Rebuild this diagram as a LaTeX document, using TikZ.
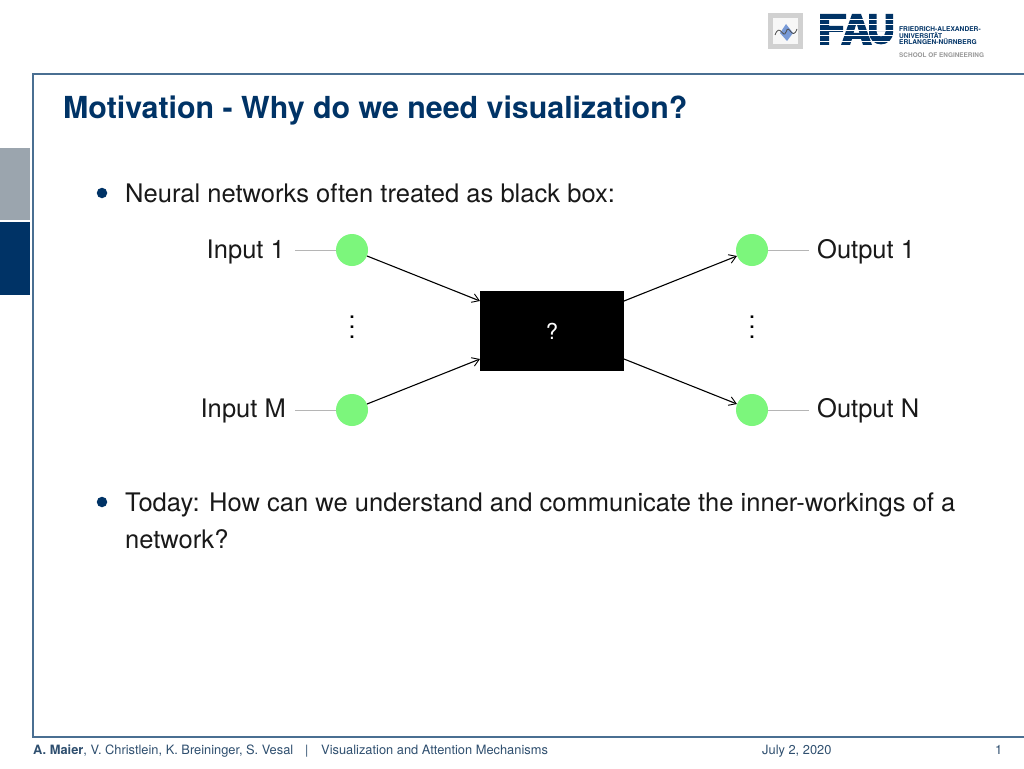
\documentclass[tikz,border=0pt]{standalone}
\usepackage{fontspec}
\usepackage{graphicx}
\setmainfont{TeX Gyre Heros}
\usetikzlibrary{arrows.meta}
\definecolor{faublue}{HTML}{003366}
\definecolor{frameblue}{HTML}{4A6F92}
\definecolor{sidegray}{HTML}{9BA5AE}
\definecolor{nodegreen}{HTML}{7CF67C}
\definecolor{leadgray}{HTML}{B5B5B5}
\definecolor{footblue}{HTML}{2F4F6F}
\tikzset{
  neuron/.style={circle,fill=nodegreen,minimum size=32pt,inner sep=0pt},
  blackbox/.style={rectangle,fill=black,text=white,minimum width=144pt,minimum height=80pt,inner sep=0pt,font=\fontsize{22}{26}\selectfont},
  lab/.style={inner sep=0pt,font=\fontsize{25.5}{30}\selectfont,text=black!90},
  body/.style={anchor=base west,inner sep=0pt,font=\fontsize{25.55}{30}\selectfont,text=black!90},
  foot/.style={anchor=base west,inner sep=0pt,font=\fontsize{12.85}{16}\selectfont,text=footblue},
  flow/.style={draw=black,line width=1.1pt,-{Straight Barb[length=7pt,width=9pt,line width=0.9pt]}},
  lead/.style={draw=leadgray,line width=1pt},
  bul/.style={circle,fill=faublue,minimum size=10.5pt,inner sep=0pt},
  lg/.style={anchor=base west,inner sep=0pt,font=\bfseries\fontsize{6.6}{8}\selectfont,text=faublue},
  dotsnode/.style={inner sep=0pt},
}
\begin{document}
\begin{tikzpicture}[x=1pt,y=-1pt]
\useasboundingbox (0,0) rectangle (1024,768);
\fill[white] (0,0) rectangle (1024,768);
% frame and side bars
\draw[frameblue,line width=1.5pt] (1024,74) -- (33,74) -- (33,737) -- (1024,737);
\fill[sidegray] (0,148) rectangle (29.5,220);
\fill[faublue] (0,222) rectangle (29.5,295);
% title
\node[anchor=base west,inner sep=0pt,font=\bfseries\fontsize{30.35}{36}\selectfont,text=faublue] (title) at (63,118) {Motivation - Why do we need visualization?};
% bullets
\node[bul] (b1) at (102,193) {};
\node[body] (t1) at (125,202) {Neural networks often treated as black box:};
\node[bul] (b2) at (102,502) {};
\node[body] (t2) at (125,511) {Today: How can we understand and communicate the inner-workings of a};
\node[body] (t3) at (125,548) {network?};
% diagram
\node[neuron] (in1) at (352,250) {};
\node[neuron] (inM) at (352,410) {};
\node[neuron] (out1) at (752,250) {};
\node[neuron] (outN) at (752,410) {};
\node[blackbox] (box) at (552,331) {?};
\node[lab,anchor=base east] (lin1) at (285,258) {Input 1};
\node[lab,anchor=base east] (linM) at (286,417) {Input M};
\node[lab,anchor=base west] (lout1) at (817,258) {Output 1};
\node[lab,anchor=base west] (loutN) at (817,417) {Output N};
\coordinate (li1) at (295,250);
\coordinate (liM) at (295,410);
\coordinate (lo1) at (809,250);
\coordinate (loN) at (809,410);
\draw[lead] (li1) -- (in1);
\draw[lead] (liM) -- (inM);
\draw[lead] (out1) -- (lo1);
\draw[lead] (outN) -- (loN);
\coordinate (boxWu) at (480,301);
\coordinate (boxWd) at (480,359);
\coordinate (boxEu) at (624,301);
\coordinate (boxEd) at (624,359);
\draw[flow] (in1) -- (boxWu);
\draw[flow] (inM) -- (boxWd);
\draw[flow] (boxEu) -- (out1);
\draw[flow] (boxEd) -- (outN);
\node[dotsnode] (dl) at (352,320) {\scalebox{2.5}{$\vdots$}};
\node[dotsnode] (dr) at (752,320) {\scalebox{2.5}{$\vdots$}};
% logo
\fill[black!18] (768,13) rectangle (803,49);
\fill[black!3] (773,18) rectangle (798,44);
\fill[cyan!45!blue!55] (786,24) -- (793,33) -- (787,41) -- (780,33) -- cycle;
\draw[black!70,line width=0.8pt] (775,35) .. controls (780,22) and (783,40) .. (786,32) .. controls (789,22) and (792,42) .. (797,29);
\fill[faublue] (820,14) rectangle (846,20) (820,14) rectangle (829,45) (820,26) rectangle (843,32);
\fill[faublue,even odd rule] (841,45) -- (852,14) -- (861,14) -- (872,45) -- (863,45) -- (861,39) -- (852,39) -- (850,45) -- cycle
  (853.5,33) -- (856.5,23) -- (859.5,33) -- cycle;
\fill[faublue] (869,14) rectangle (876.5,33) (885.5,14) rectangle (893,33);
\fill[faublue,even odd rule] (869,32) .. controls (869,48.5) and (893,48.5) .. (893,32) -- cycle (876.5,32) .. controls (876.5,38) and (885.5,38) .. (885.5,32) -- cycle;
\foreach \yy in {19.5,24.5,30,35.5,41}{\fill[white] (818,\yy) rectangle (895,\yy+1);}
\node[lg] (l1) at (899,32) {FRIEDRICH-ALEXANDER-};
\node[lg] (l2) at (899,38.5) {UNIVERSITÄT};
\node[lg] (l3) at (899,45) {ERLANGEN-NÜRNBERG};
\node[lg,text=black!40,font=\bfseries\fontsize{6.4}{8}\selectfont] (l4) at (899,57) {SCHOOL OF ENGINEERING};
% footer
\node[foot] (f1) at (33,754) {\textbf{A. Maier}, V. Christlein, K. Breininger, S. Vesal};
\node[foot] (f2) at (305,754) {|};
\node[foot] (f3) at (321,754) {Visualization and Attention Mechanisms};
\node[foot] (f4) at (762,754) {July 2, 2020};
\node[foot] (f5) at (995,754) {1};
\end{tikzpicture}
\end{document}
